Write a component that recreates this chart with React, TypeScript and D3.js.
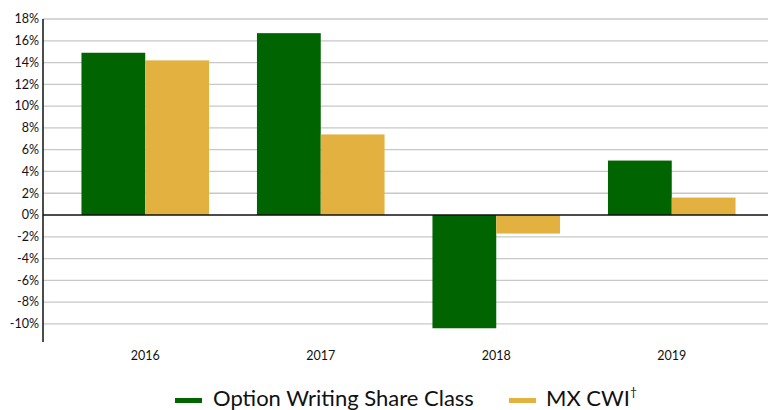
import React from "react";
import * as d3 from "d3";

const categories = ["2016", "2017", "2018", "2019"];
const seriesNames = ["Option Writing Share Class", "MX CWI"];
const optionWriting = [14.9, 16.7, -10.4, 5.0];
const mxCwi = [14.2, 7.4, -1.7, 1.6];
const yTicks = [-10, -8, -6, -4, -2, 0, 2, 4, 6, 8, 10, 12, 14, 16, 18];
const colors = ["#006400", "#E3B13F"];

const W = 768;
const H = 410;
const FONT = "Lato, 'Open Sans', sans-serif";

export default function App() {
  const y = d3.scaleLinear().domain([-10, 18]).range([323.9, 19]);
  const axisBottom = 342;
  const axisX = 43;
  const x0 = d3.scaleBand<string>().domain(categories).range([57.5, 759.5]).paddingInner(0.273).paddingOuter(0.1365);
  const x1 = d3.scaleBand<number>().domain([0, 1]).range([0, x0.bandwidth()]);
  const series = [optionWriting, mxCwi];

  return (
    <svg width={W} height={H} style={{ position: "fixed", left: 0, top: 0, background: "#fff" }} fontFamily={FONT}>
      {yTicks.map((t) => (
        <g key={t}>
          {t !== 0 && (
            <line x1={axisX} x2={W} y1={y(t)} y2={y(t)} stroke="#c8c8c8" strokeWidth={1.3} />
          )}
          <text x={39} y={y(t)} dy="0.35em" textAnchor="end" fontSize={12.5} fill="#111">
            {`${t}%`}
          </text>
        </g>
      ))}
      {categories.map((c, i) =>
        series.map((s, j) => {
          const v = s[i];
          const bx = (x0(c) ?? 0) + (x1(j) ?? 0);
          return (
            <rect
              key={`${c}-${j}`}
              x={bx}
              width={x1.bandwidth()}
              y={Math.min(y(v), y(0))}
              height={Math.abs(y(v) - y(0))}
              fill={colors[j]}
            />
          );
        })
      )}
      <line x1={axisX} x2={W} y1={y(0)} y2={y(0)} stroke="#111" strokeWidth={1.5} />
      <line x1={axisX} x2={axisX} y1={y(18)} y2={axisBottom} stroke="#111" strokeWidth={1.5} />
      {categories.map((c) => (
        <text key={c} x={(x0(c) ?? 0) + x0.bandwidth() / 2} y={360} textAnchor="middle" fontSize={12.5} fill="#111">
          {c}
        </text>
      ))}
      <g>
        <rect x={175} y={398} width={27} height={5} fill={colors[0]} />
        <text x={213} y={406} fontSize={22} fill="#111">{seriesNames[0]}</text>
        <rect x={509} y={398} width={27} height={5} fill={colors[1]} />
        <text x={546} y={406} fontSize={22} fill="#111">
          {seriesNames[1]}
          <tspan dy={-10} fontSize={12}>†</tspan>
        </text>
      </g>
    </svg>
  );
}
